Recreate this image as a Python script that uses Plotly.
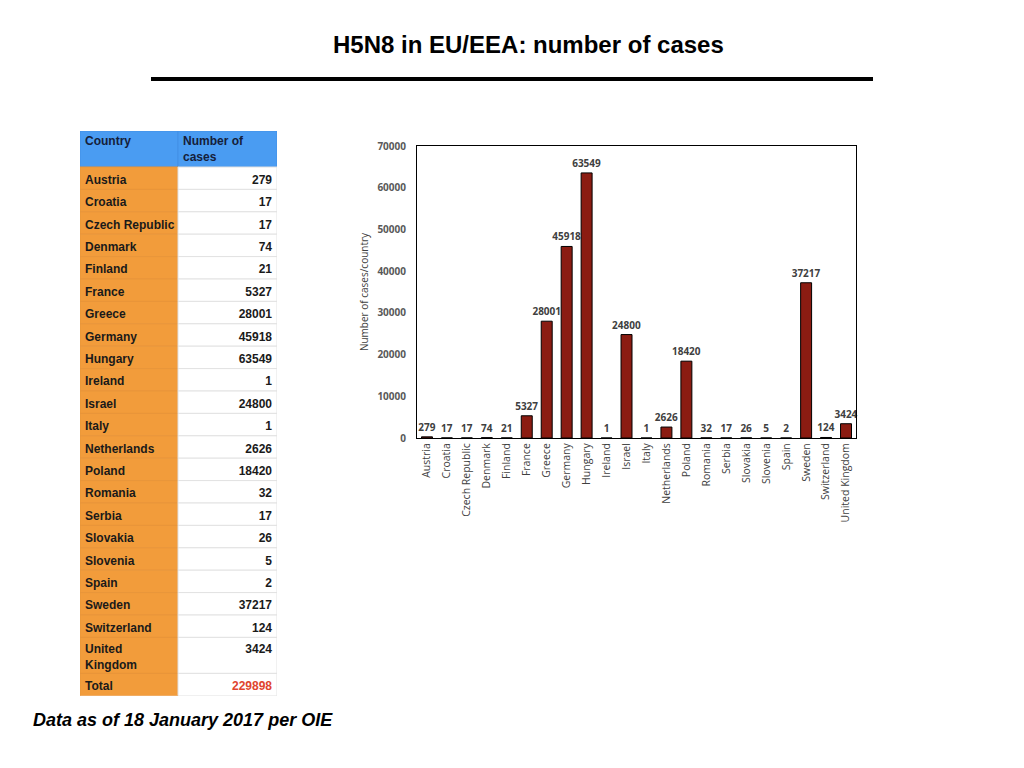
import plotly.graph_objects as go

countries = ['Austria', 'Croatia', 'Czech Republic', 'Denmark', 'Finland', 'France',
             'Greece', 'Germany', 'Hungary', 'Ireland', 'Israel', 'Italy',
             'Netherlands', 'Poland', 'Romania', 'Serbia', 'Slovakia', 'Slovenia',
             'Spain', 'Sweden', 'Switzerland', 'United Kingdom']
cases = [279, 17, 17, 74, 21, 5327, 28001, 45918, 63549, 1, 24800, 1,
         2626, 18420, 32, 17, 26, 5, 2, 37217, 124, 3424]
total = 229898
header = ['Country', 'Number of<br>cases']

W, H = 1024, 768
OFF = 8  # page body margin


def px(x):
    return (x - OFF) / W


def py(y):
    return 1 - (y - OFF) / H


# ---- table geometry (in table-axis units = pixels) ----
col_w = [98, 99]
head_h = 36
row_h = 22.4
tall_h = 36
pad = 5
drop = 2.5  # text sits a little below the row middle

tbl_names = ['United<br>Kingdom' if c == 'United Kingdom' else c for c in countries] + ['Total']
tbl_vals = [str(v) for v in cases] + [str(total)]
heights = [tall_h if '<br>' in n else row_h for n in tbl_names]
tops = []
y = head_h
for h in heights:
    tops.append(y)
    y += h
tbl_total_h = y
centers = [t + h / 2 for t, h in zip(tops, heights)]
name_y = [c + drop for c in centers]
val_y = [c + drop if h == row_h else t + 13 for c, h, t in zip(centers, heights, tops)]
val_colors = ['#1a1a1a'] * len(cases) + ['#e0452e']

fig = go.Figure()

# header fill
fig.add_trace(go.Bar(
    orientation='h', y=[head_h / 2, head_h / 2], x=col_w, base=[0, col_w[0]],
    width=[head_h, head_h], marker=dict(color='#4a9cf2', line=dict(color='#4390e6', width=1)),
    xaxis='x2', yaxis='y2', hoverinfo='skip',
))
# country column fill
fig.add_trace(go.Bar(
    orientation='h', y=centers, x=[col_w[0]] * len(centers), base=[0] * len(centers),
    width=heights, marker=dict(color='#f29c3b', line=dict(color='#e8953a', width=1)),
    xaxis='x2', yaxis='y2', hoverinfo='skip',
))
# values column fill
fig.add_trace(go.Bar(
    orientation='h', y=centers, x=[col_w[1]] * len(centers), base=[col_w[0]] * len(centers),
    width=heights, marker=dict(color='white', line=dict(color='#e2e2e2', width=1)),
    xaxis='x2', yaxis='y2', hoverinfo='skip',
))
# header text
fig.add_trace(go.Scatter(
    x=[pad, col_w[0] + pad], y=[5, 5], mode='text', text=header,
    textposition='bottom right',
    textfont=dict(family='Liberation Sans', size=12, color='#15203a', weight='bold'),
    xaxis='x2', yaxis='y2', hoverinfo='skip',
))
# country names
fig.add_trace(go.Scatter(
    x=[pad] * len(centers), y=name_y, mode='text', text=tbl_names,
    textposition='middle right',
    textfont=dict(family='Liberation Sans', size=12, color='#1a1a1a', weight='bold'),
    xaxis='x2', yaxis='y2', hoverinfo='skip',
))
# case numbers
fig.add_trace(go.Scatter(
    x=[sum(col_w) - pad] * len(centers), y=val_y,
    mode='text', text=tbl_vals, textposition='middle left',
    textfont=dict(family='Liberation Sans', size=12, color=val_colors, weight='bold'),
    xaxis='x2', yaxis='y2', hoverinfo='skip',
))

# ---- bar chart ----
fig.add_trace(go.Bar(
    x=countries, y=cases,
    text=[str(v) for v in cases],
    textposition='outside',
    constraintext='none',
    cliponaxis=False,
    textfont=dict(family='Open Sans', size=10, color='#404040', weight='bold'),
    marker=dict(color='#8b1c12', line=dict(color='black', width=1)),
    width=0.55,
))

fig.update_layout(
    width=W, height=H,
    margin=dict(l=0, r=0, t=0, b=0, autoexpand=False),
    paper_bgcolor='white', plot_bgcolor='white',
    showlegend=False,
    barmode='overlay',
    xaxis=dict(
        domain=[px(417), px(856)],
        tickangle=-90,
        tickfont=dict(family='Open Sans', size=10.5, color='#404040'),
        showline=True, mirror=True, linecolor='black', linewidth=1,
        ticks='', showgrid=False,
    ),
    yaxis=dict(
        domain=[py(438), py(146)],
        range=[0, 70000],
        dtick=10000,
        tickformat='d',
        tickfont=dict(family='Open Sans', size=10, color='#595959', weight='bold'),
        showline=True, mirror=True, linecolor='black', linewidth=1,
        showgrid=False, zeroline=False,
        ticks='outside', ticklen=8, tickcolor='white',
        title=dict(text='Number of cases/country', standoff=6,
                   font=dict(family='Open Sans', size=10, color='#404040')),
    ),
    xaxis2=dict(domain=[px(80), px(277)], range=[0, sum(col_w)], visible=False,
                fixedrange=True),
    yaxis2=dict(domain=[py(131 + tbl_total_h), py(131)], range=[tbl_total_h, 0],
                visible=False, fixedrange=True),
    shapes=[dict(type='line', xref='paper', yref='paper',
                 x0=px(151), x1=px(873), y0=py(79), y1=py(79),
                 line=dict(color='black', width=4))],
    annotations=[
        dict(text='<b>H5N8 in EU/EEA: number of cases</b>', xref='paper', yref='paper',
             x=px(528), y=py(44), yanchor='middle', showarrow=False,
             font=dict(family='Liberation Sans', size=24, color='black')),
        dict(text='<b><i>Data as of 18 January 2017 per OIE</i></b>', xref='paper', yref='paper',
             x=px(31), y=py(720), xanchor='left', yanchor='middle', showarrow=False,
             font=dict(family='Liberation Sans', size=18, color='black')),
    ],
)

fig.write_html("out.html")
